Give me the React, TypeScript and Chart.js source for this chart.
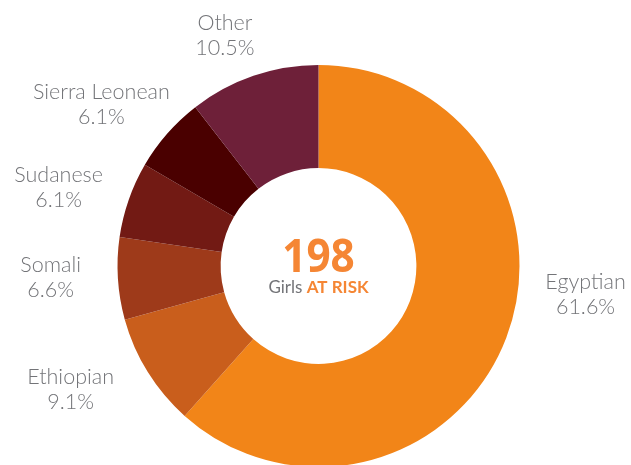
import React, { useEffect, useRef } from "react";
import { Chart, registerables } from "chart.js";

Chart.register(...registerables);

const categories = ["Egyptian", "Ethiopian", "Somali", "Sudanese", "Sierra Leonean", "Other"];
const shares = [61.6, 9.1, 6.6, 6.1, 6.1, 10.5];
const shareLabels = ["61.6%", "9.1%", "6.6%", "6.1%", "6.1%", "10.5%"];
const colors = ["#F28518", "#C95E1C", "#9E3A1A", "#721A14", "#4A0000", "#6E2039"];
const centerNumber = "198";

// label placement: polar angle (deg clockwise from top) and distance in outer-radius units
const labelAngles = [96.1, 243.5, 267.6, 286.7, 306.7, 337.9];
const labelDist = [1.336, 1.378, 1.334, 1.35, 1.347, 1.237];

const GRAY = "#737478";
const ORANGE = "#F58634";

const labelPlugin = {
  id: "labelPlugin",
  afterDraw(chart: any) {
    const meta = chart.getDatasetMeta(0);
    const arc0 = meta.data[0];
    if (!arc0) return;
    const { x, y, outerRadius } = arc0.getProps(["x", "y", "outerRadius"], true);
    const ctx = chart.ctx;
    ctx.save();
    ctx.textAlign = "center";
    ctx.textBaseline = "middle";
    ctx.fillStyle = GRAY;
    ctx.font = "300 21.5px Lato";
    categories.forEach((name, i) => {
      const a = (labelAngles[i] * Math.PI) / 180;
      const d = labelDist[i] * outerRadius;
      const lx = x + Math.sin(a) * d;
      const ly = y - Math.cos(a) * d;
      ctx.fillText(name, lx, ly - 12.5);
      ctx.fillText(shareLabels[i], lx, ly + 12.5);
    });
    // center number (condensed look)
    ctx.save();
    ctx.fillStyle = ORANGE;
    ctx.font = "bold 46px 'Open Sans'";
    ctx.textBaseline = "alphabetic";
    ctx.translate(x, y + 6);
    ctx.scale(0.92, 1);
    ctx.fillText(centerNumber, 0, 0);
    ctx.restore();
    ctx.textBaseline = "alphabetic";
    ctx.font = "400 17px Lato";
    const w1 = ctx.measureText("Girls ").width;
    ctx.font = "bold 17px Lato";
    const w2 = ctx.measureText("AT RISK").width;
    const start = x - (w1 + w2) / 2;
    ctx.textAlign = "left";
    ctx.font = "400 17px Lato";
    ctx.fillStyle = GRAY;
    ctx.fillText("Girls ", start, y + 27);
    ctx.font = "bold 17px Lato";
    ctx.fillStyle = ORANGE;
    ctx.fillText("AT RISK", start + w1, y + 27);
    ctx.restore();
  },
};

export default function App() {
  const ref = useRef<HTMLCanvasElement | null>(null);
  useEffect(() => {
    if (!ref.current) return;
    const chart = new Chart(ref.current, {
      type: "doughnut",
      data: {
        labels: categories,
        datasets: [
          {
            data: shares,
            backgroundColor: colors,
            borderWidth: 0,
            hoverOffset: 0,
          },
        ],
      },
      options: {
        responsive: false,
        animation: false,
        cutout: "48.7%",
        layout: { padding: { left: 117, right: 111, top: 65, bottom: 3 } },
        plugins: {
          legend: { display: false },
          tooltip: { enabled: false },
        },
      },
      plugins: [labelPlugin],
    });
    return () => chart.destroy();
  }, []);
  return (
    <div style={{ position: "absolute", left: 0, top: 0, width: 631, height: 465, overflow: "hidden", background: "#fff" }}>
      <canvas ref={ref} width={631} height={470} style={{ width: 631, height: 470, display: "block" }} />
    </div>
  );
}
